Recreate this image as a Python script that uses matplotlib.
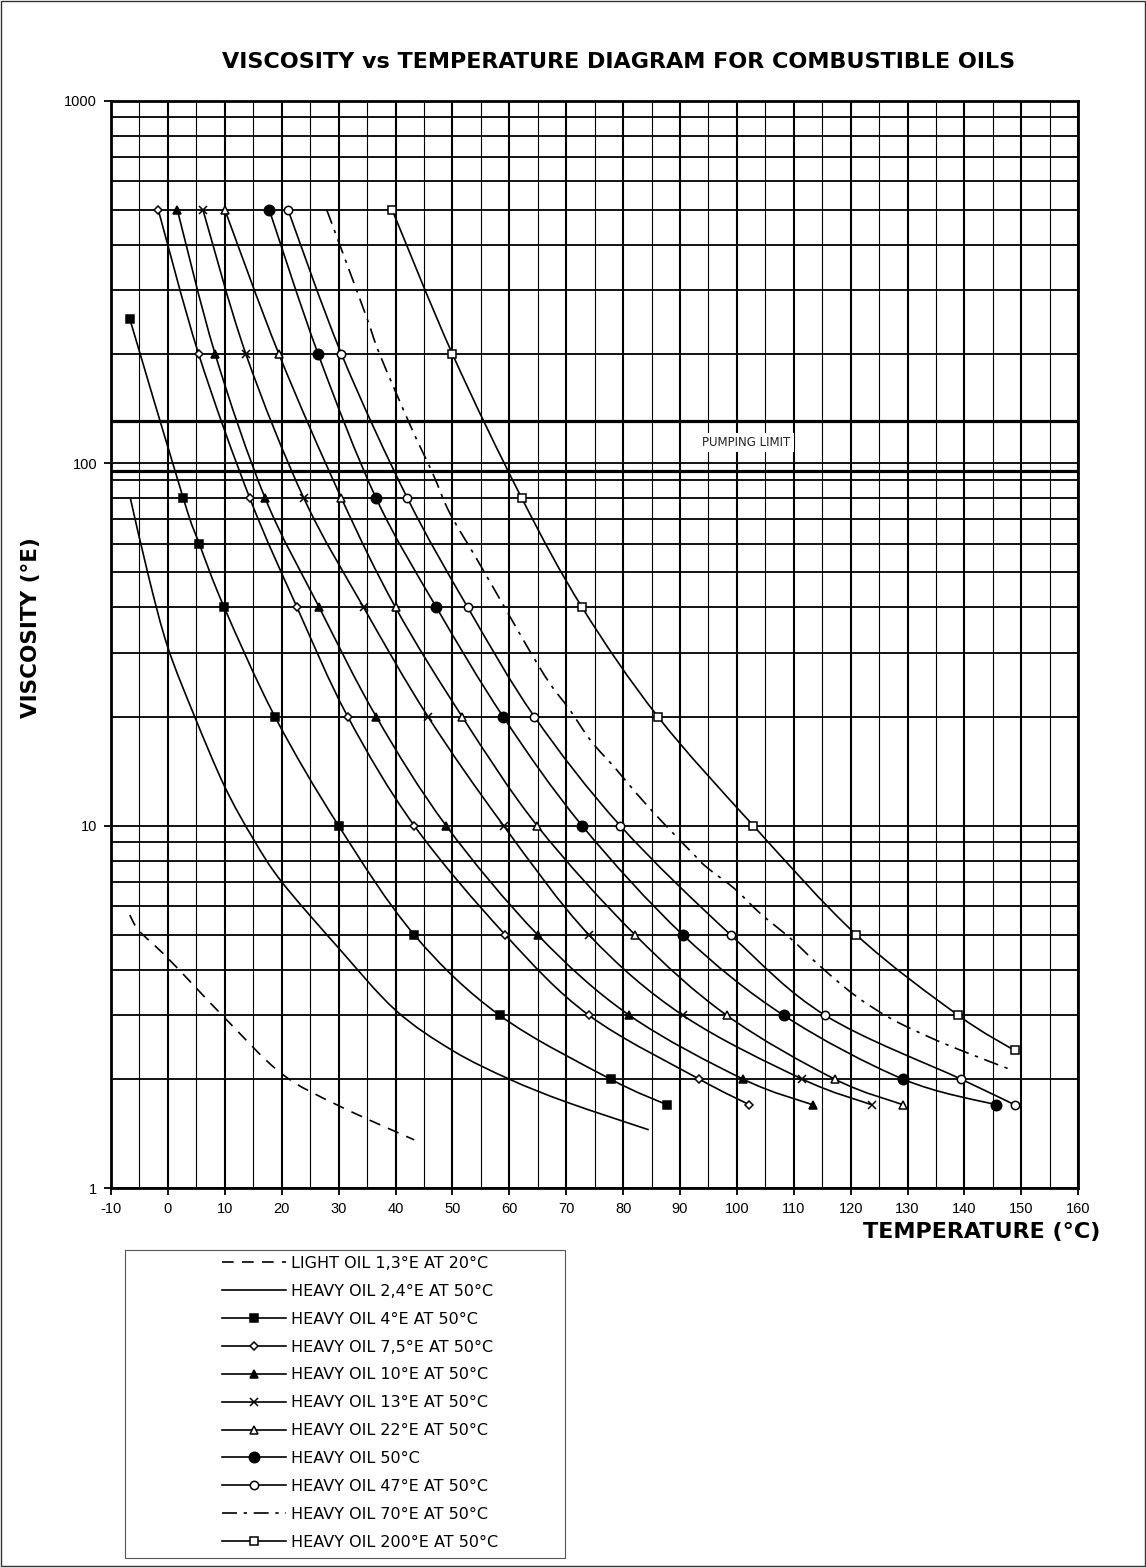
import numpy as np
import matplotlib
matplotlib.use("Agg")
import matplotlib.pyplot as plt
from matplotlib.path import Path
from matplotlib.patches import PathPatch, Rectangle
from matplotlib.lines import Line2D
from matplotlib.ticker import FixedLocator, FixedFormatter, NullFormatter

plt.rcParams['font.family'] = ['Liberation Sans', 'DejaVu Sans']
plt.rcParams['axes.unicode_minus'] = False

# temperature (°C) / viscosity (°E)
light_t = [-6.7, -5.0, 0, 10, 20, 30, 43.3]
light_v = [5.67, 5.12, 4.31, 2.95, 2.07, 1.69, 1.36]

oil24_t = [-6.6, -3.3, 0, 4.7, 10, 15, 20, 30, 40, 50, 60, 70, 84.5]
oil24_v = [80, 48, 31, 20, 12.8, 9.2, 7.0, 4.6, 3.1, 2.4, 2.0, 1.73, 1.45]

oil4_t = [-6.7, 2.7, 5.5, 9.9, 18.8, 30.0, 43.3, 58.3, 77.8, 87.7]
oil4_v = [250, 80, 60, 40, 20, 10, 5, 3, 2, 1.7]

oil75_t = [-1.7, 5.4, 14.4, 22.7, 31.6, 43.3, 59.3, 74.0, 93.4, 102.2]
oil75_v = [500, 200, 80, 40, 20, 10, 5, 3, 2, 1.7]

oil10_t = [1.65, 8.3, 17.1, 26.6, 36.6, 48.9, 65.0, 81.1, 101.1, 113.3]
oil10_v = [500, 200, 80, 40, 20, 10, 5, 3, 2, 1.7]

oil13_t = [6.15, 13.7, 23.9, 34.4, 45.7, 59.0, 74.0, 90.5, 111.5, 123.7]
oil13_v = [500, 200, 80, 40, 20, 10, 5, 3, 2, 1.7]

oil22_t = [10.0, 19.5, 30.5, 40.0, 51.7, 64.9, 82.1, 98.2, 117.2, 129.2]
oil22_v = [500, 200, 80, 40, 20, 10, 5, 3, 2, 1.7]

oil50c_t = [17.8, 26.4, 36.6, 47.2, 58.9, 72.8, 90.5, 108.2, 129.2, 145.5]
oil50c_v = [500, 200, 80, 40, 20, 10, 5, 3, 2, 1.7]

oil47_t = [21.1, 30.5, 42.1, 52.7, 64.4, 79.5, 98.9, 115.5, 139.4, 148.8]
oil47_v = [500, 200, 80, 40, 20, 10, 5, 3, 2, 1.7]

oil70_t = [27.9, 30.2, 34.9, 37.2, 42.7, 46.5, 49.5, 54.1, 60.0, 63.5, 67.1, 70.6,
           74.4, 78.8, 82.3, 87.0, 92.2, 94.6, 99.6, 104.0, 109.6, 114.6, 120.9,
           127.2, 134.1, 139.7, 148.3]
oil70_v = [500, 400, 253, 200, 126, 94, 73, 55, 38, 30.5, 24.7, 20.9,
           17.1, 14.3, 12.3, 10.2, 8.4, 7.7, 6.7, 5.75, 4.86, 4.1, 3.39,
           2.93, 2.6, 2.39, 2.12]

oil200_t = [39.4, 50.0, 62.2, 72.8, 86.1, 102.9, 121.0, 138.9, 148.8]
oil200_v = [500, 200, 80, 40, 20, 10, 5, 3, 2.4]

pumping_limits = [131, 95]

labels = ["LIGHT OIL 1,3°E AT 20°C", "HEAVY OIL 2,4°E AT 50°C", "HEAVY OIL 4°E AT 50°C",
          "HEAVY OIL 7,5°E AT 50°C", "HEAVY OIL 10°E AT 50°C", "HEAVY OIL 13°E AT 50°C",
          "HEAVY OIL 22°E AT 50°C", "HEAVY OIL 50°C", "HEAVY OIL 47°E AT 50°C",
          "HEAVY OIL 70°E AT 50°C", "HEAVY OIL 200°E AT 50°C"]

x_ticks = list(range(-10, 161, 10))
y_ticks = [1, 10, 100, 1000]

WIDE = ['DejaVu Sans']


def smooth_path(t, v):
    # excel-like smoothed line, built in (T, log V) space
    p = np.column_stack([np.asarray(t, float), np.log10(v)])
    n = len(p)
    verts = [p[0]]
    codes = [Path.MOVETO]
    for i in range(n - 1):
        a = p[max(i - 1, 0)]
        b = p[min(i + 2, n - 1)]
        c1 = p[i] + (p[i + 1] - a) / 6.0
        c2 = p[i + 1] - (b - p[i]) / 6.0
        verts += [c1, c2, p[i + 1]]
        codes += [Path.CURVE4] * 3
    verts = np.array(verts)
    verts[:, 1] = 10 ** verts[:, 1]
    return Path(verts, codes)


series = [
    (light_t, light_v, (0, (7, 5)), None, None, 0),
    (oil24_t, oil24_v, '-', None, None, 0),
    (oil4_t, oil4_v, '-', 's', 'k', 5.5),
    (oil75_t, oil75_v, '-', 'D', 'w', 3.8),
    (oil10_t, oil10_v, '-', '^', 'k', 6),
    (oil13_t, oil13_v, '-', 'x', 'k', 6),
    (oil22_t, oil22_v, '-', '^', 'w', 6),
    (oil50c_t, oil50c_v, '-', 'o', 'k', 7.5),
    (oil47_t, oil47_v, '-', 'o', 'w', 6),
    (oil70_t, oil70_v, (0, (9, 4, 2, 4)), None, None, 0),
    (oil200_t, oil200_v, '-', 's', 'w', 6),
]

W, H = 1146, 1567
fig = plt.figure(figsize=(W / 100, H / 100), dpi=100)
ax = fig.add_axes([111 / W, 1 - 1188.3 / H, (1078.3 - 111) / W, (1188.3 - 100.5) / H])

ax.set_yscale('log')
ax.set_xlim(-10, 160)
ax.set_ylim(1, 1000)
ax.set_axisbelow(True)

ax.xaxis.set_major_locator(FixedLocator(x_ticks))
ax.xaxis.set_minor_locator(FixedLocator([x + 5 for x in x_ticks[:-1]]))
ax.yaxis.set_major_locator(FixedLocator(y_ticks))
ax.yaxis.set_major_formatter(FixedFormatter([str(v) for v in y_ticks]))
ax.yaxis.set_minor_locator(FixedLocator([m * d for d in (1, 10, 100) for m in range(2, 10)]))
ax.yaxis.set_minor_formatter(NullFormatter())
ax.tick_params(which='major', direction='out', length=5, width=1.3, labelsize=10.5, pad=5)
ax.tick_params(which='minor', length=0)

ax.grid(which='major', axis='x', color='k', lw=1.5)
ax.grid(which='minor', axis='x', color='k', lw=0.8)
ax.grid(which='both', axis='y', color='k', lw=1.3)
for s in ax.spines.values():
    s.set_linewidth(2.0)

for lim in pumping_limits:
    ax.axhline(lim, color='k', lw=2.3, zorder=1.5)
ax.text(101.7, 114, "PUMPING LIMIT", ha='center', va='center', fontsize=8.5, color='#222222',
        family=WIDE, bbox=dict(facecolor='white', edgecolor='none', pad=2.5), zorder=1.6)

handles = []
for (t, v, ls, mk, mfc, ms), lab in zip(series, labels):
    ax.add_patch(PathPatch(smooth_path(t, v), fill=False, edgecolor='k', lw=1.2,
                           linestyle=ls, zorder=3))
    if mk is not None:
        ax.plot(t, v, linestyle='none', marker=mk, markersize=ms, markerfacecolor=mfc,
                markeredgecolor='k', markeredgewidth=1.1, zorder=4)
    handles.append(Line2D([], [], color='k', lw=1.2, linestyle=ls, marker=mk,
                          markersize=ms, markerfacecolor=mfc, markeredgecolor='k',
                          markeredgewidth=1.1))

leg = fig.legend(handles, labels, loc='upper left', bbox_to_anchor=(222 / W, 1 - 1256 / H),
                 frameon=False, prop={'family': WIDE, 'size': 11.5}, handlelength=4.0,
                 handletextpad=0.3, borderpad=0, borderaxespad=0, labelspacing=0.805,
                 numpoints=1)

fig.patches.append(Rectangle((125 / W, 1 - 1558 / H), 440 / W, 308 / H, transform=fig.transFigure,
                             fill=False, edgecolor='#555555', lw=0.8))
fig.patches.append(Rectangle((1 / W, 1 / H), (W - 2) / W, (H - 2) / H, transform=fig.transFigure,
                             fill=False, edgecolor='#333333', lw=1.0))

fig.text(619 / W, 1 - 62 / H, "VISCOSITY vs TEMPERATURE DIAGRAM FOR COMBUSTIBLE OILS",
         ha='center', va='center', fontsize=16, fontweight='bold', family=WIDE)
fig.text(1100 / W, 1 - 1232 / H, "TEMPERATURE (°C)", ha='right', va='center',
         fontsize=16, fontweight='bold', family=WIDE)
fig.text(31 / W, 1 - 628 / H, "VISCOSITY (°E)", ha='center', va='center', rotation=90,
         fontsize=15.5, fontweight='bold', family=WIDE)

fig.savefig("out.png", dpi=100)
